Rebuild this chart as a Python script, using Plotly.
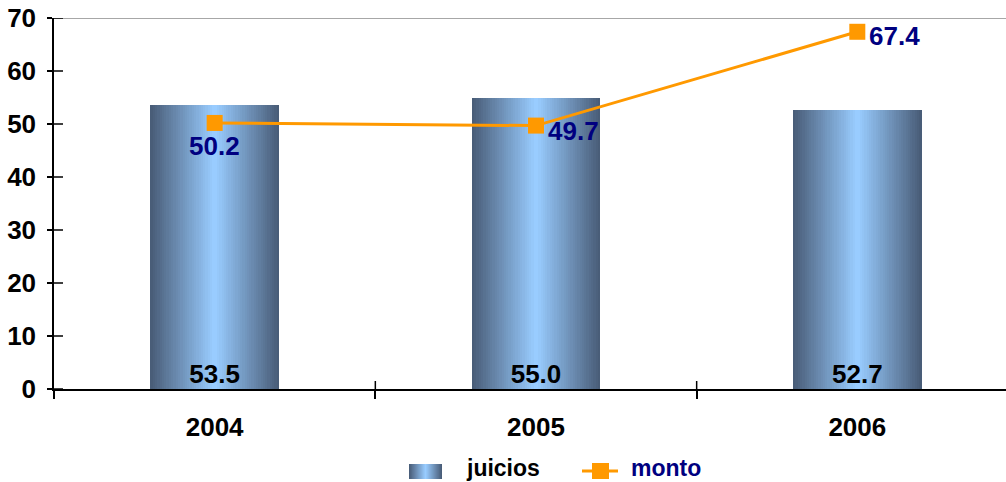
import plotly.graph_objects as go

# Data
years = ["2004", "2005", "2006"]
juicios = [53.5, 55.0, 52.7]
monto = [50.2, 49.7, 67.4]
y_ticks = [0, 10, 20, 30, 40, 50, 60, 70]

FONT = "Liberation Sans, Arial, sans-serif"
NAVY = "#000080"
ORANGE = "#ff9900"
DARK = (73, 93, 120)
LIGHT = (153, 204, 255)
BAR_W = 0.40
N_LAYERS = 28

# Placement of the monto value labels relative to their markers
monto_label_style = [
    dict(xanchor="center", yanchor="top", xshift=0, yshift=-6),
    dict(xanchor="left", yanchor="middle", xshift=10, yshift=-5),
    dict(xanchor="left", yanchor="middle", xshift=10, yshift=-4),
]


def blend(t):
    r, g, b = (round(d + (l - d) * t) for d, l in zip(DARK, LIGHT))
    return f"rgb({r},{g},{b})"


fig = go.Figure()

# Bars with a horizontal dark-light-dark gradient: nested overlaid bars,
# each narrower and lighter than the one below it.
for k in range(N_LAYERS):
    fig.add_trace(go.Bar(
        x=years, y=juicios,
        width=BAR_W * (1 - k / N_LAYERS),
        marker=dict(color=blend(k / (N_LAYERS - 1)), line=dict(width=0)),
        showlegend=False, hoverinfo="skip" if k else "y",
    ))

# Value labels at the foot of each bar
fig.add_trace(go.Scatter(
    x=years, y=[0] * len(years), mode="text",
    text=[f"{v:.1f}" for v in juicios], textposition="top center",
    textfont=dict(family=FONT, size=26, color="black", weight="bold"),
    showlegend=False, hoverinfo="skip", cliponaxis=False,
))

# Line series
fig.add_trace(go.Scatter(
    x=years, y=monto, mode="lines+markers", name="monto",
    line=dict(color=ORANGE, width=3),
    marker=dict(symbol="square", size=16, color=ORANGE),
    showlegend=False, cliponaxis=False,
))

# Value labels for the line; category axes take the category index as x
annotations = []
for i, (v, st) in enumerate(zip(monto, monto_label_style)):
    annotations.append(dict(
        x=i, y=v, xref="x", yref="y", text=f"{v:.1f}", showarrow=False,
        font=dict(family=FONT, size=26, color=NAVY, weight="bold"), **st))

shapes = []
# Frame line at the top of the value range
shapes.append(dict(type="line", xref="paper", x0=0, x1=1, yref="y",
                   y0=y_ticks[-1], y1=y_ticks[-1],
                   line=dict(color="#8a8a8a", width=1.5)))
# Inner halves of the crossing tick marks
for v in y_ticks:
    shapes.append(dict(type="line", xref="paper", xsizemode="pixel", xanchor=0,
                       x0=0, x1=9, yref="y", y0=v, y1=v,
                       line=dict(color="black", width=1.5)))
for i in range(len(years) - 1):
    shapes.append(dict(type="line", xref="x", x0=i + 0.5, x1=i + 0.5,
                       yref="paper", ysizemode="pixel", yanchor=0, y0=0, y1=8,
                       line=dict(color="black", width=1.5)))


# Legend, drawn by hand so the bar swatch can carry the gradient
def px_x(p):
    return (p - 54) / 952


def px_y(p):
    return (389 - p) / 371


sw_l, sw_r, sw_t, sw_b = 409, 442, 464, 479
sw_c, sw_half = (sw_l + sw_r) / 2, (sw_r - sw_l) / 2
for k in range(N_LAYERS):
    h = sw_half * (1 - k / N_LAYERS)
    shapes.append(dict(type="rect", xref="paper", yref="paper",
                       x0=px_x(sw_c - h), x1=px_x(sw_c + h),
                       y0=px_y(sw_b), y1=px_y(sw_t),
                       fillcolor=blend(k / (N_LAYERS - 1)), line=dict(width=0)))
shapes.append(dict(type="line", xref="paper", yref="paper",
                   x0=px_x(582), x1=px_x(618), y0=px_y(471), y1=px_y(471),
                   line=dict(color=ORANGE, width=3)))
shapes.append(dict(type="rect", xref="paper", yref="paper",
                   x0=px_x(592), x1=px_x(609), y0=px_y(479), y1=px_y(463),
                   fillcolor=ORANGE, line=dict(width=0)))

annotations += [
    dict(text="juicios", xref="paper", yref="paper", x=px_x(464), y=px_y(468),
         xanchor="left", yanchor="middle", showarrow=False,
         font=dict(family=FONT, size=23, color="black", weight="bold")),
    dict(text="monto", xref="paper", yref="paper", x=px_x(629), y=px_y(468),
         xanchor="left", yanchor="middle", showarrow=False,
         font=dict(family=FONT, size=23, color=NAVY, weight="bold")),
]

fig.update_layout(
    width=1006, height=482,
    margin=dict(l=54, r=0, t=18, b=93),
    paper_bgcolor="white", plot_bgcolor="white",
    barmode="overlay", bargap=0,
    showlegend=False,
    shapes=shapes, annotations=annotations,
    xaxis=dict(
        type="category", range=[-0.5, 2.4627],
        tickson="boundaries", ticks="outside", ticklen=8, tickwidth=1.5,
        tickcolor="black", showgrid=False, zeroline=False,
        showline=True, linecolor="black", linewidth=2,
        tickfont=dict(family=FONT, size=26, color="black", weight="bold"),
        ticklabelstandoff=14,
    ),
    yaxis=dict(
        range=[0, 70], tickvals=y_ticks, ticks="outside", ticklen=5,
        tickwidth=1.5, tickcolor="black", showgrid=False, zeroline=False,
        showline=True, linecolor="black", linewidth=1.5,
        tickfont=dict(family=FONT, size=26, color="black", weight="bold"),
        ticklabelstandoff=6,
    ),
)

fig.write_html("out.html")
